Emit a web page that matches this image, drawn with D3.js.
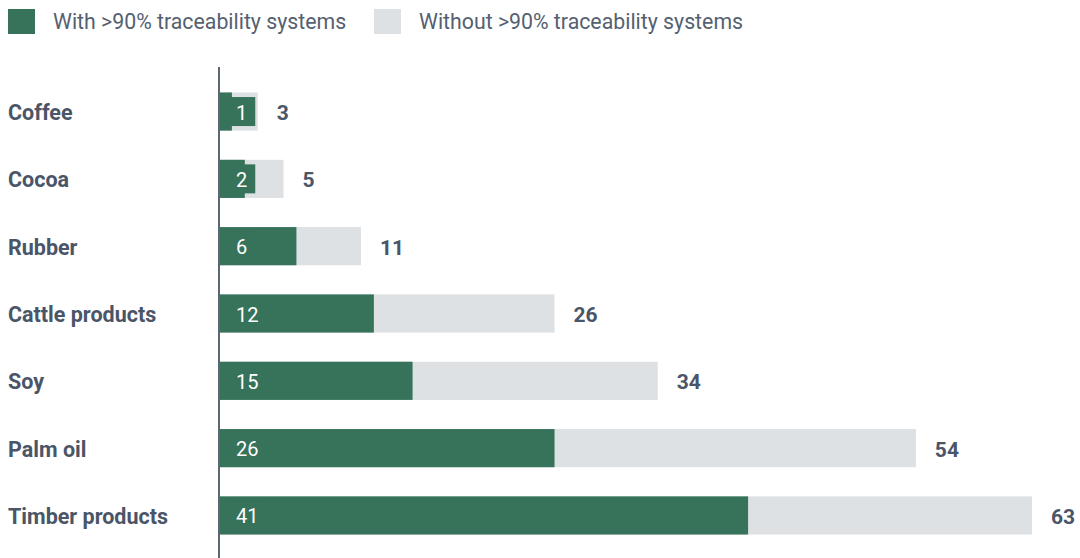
<!DOCTYPE html>
<html><head><meta charset="utf-8">
<script src="https://cdn.jsdelivr.net/npm/d3@7"></script>
<style>body{margin:0;background:#fff;}svg{display:block;font-family:Roboto,sans-serif;}</style>
</head><body><svg id="c" width="1080" height="558"></svg>
<script>
const categories = ["Coffee","Cocoa","Rubber","Cattle products","Soy","Palm oil","Timber products"];
const withValues = [1,2,6,12,15,26,41];
const totalValues = [3,5,11,26,34,54,63];
const seriesNames = ["With >90% traceability systems","Without >90% traceability systems"];
const colors = ["#36735a","#dde1e3"];
const textColor = "#4a5568";

const svg = d3.select("#c");
const x = d3.scaleLinear().domain([0,63]).range([219,1032]);
const y = d3.scaleBand().domain(categories).range([79,548]).paddingInner(0.433).paddingOuter(0.2);

// legend
const leg = svg.append("g");
let lx = [8, 374];
seriesNames.forEach((n,i)=>{
  leg.append("rect").attr("x",lx[i]).attr("y",9).attr("width",27).attr("height",25).attr("fill",colors[i]);
  leg.append("text").attr("x",lx[i]+45).attr("y",29).attr("font-size",21.3).attr("fill","#556070").text(n);
});

const rows = svg.append("g").selectAll("g").data(categories).join("g");
rows.append("rect").attr("x",x(0)).attr("y",d=>y(d)).attr("height",y.bandwidth())
  .attr("width",(d,i)=>x(totalValues[i])-x(0)).attr("fill",colors[1]);
rows.append("rect").attr("x",x(0)).attr("y",d=>y(d)).attr("height",y.bandwidth())
  .attr("width",(d,i)=>x(withValues[i])-x(0)).attr("fill",colors[0]);
// inner label with background
rows.each(function(d,i){
  const g = d3.select(this);
  const cy = y(d)+y.bandwidth()/2;
  const bg = g.append("rect").attr("fill",colors[0]);
  const t = g.append("text").attr("x",236).attr("y",cy).attr("dy","0.4em")
    .attr("font-size",20).attr("fill","#fff").text(withValues[i]);
  const bb = t.node().getBBox();
  bg.attr("x",bb.x-6).attr("width",bb.width+14).attr("y",cy-14.5).attr("height",29);
  g.append("text").attr("x",x(totalValues[i])+19).attr("y",cy).attr("dy","0.4em")
    .attr("font-size",21).attr("font-weight","bold").attr("fill",textColor).text(totalValues[i]);
  g.append("text").attr("x",8).attr("y",cy).attr("dy","0.4em")
    .attr("font-size",21.5).attr("font-weight","bold").attr("fill",textColor).text(d);
});

svg.append("line").attr("x1",x(0)).attr("x2",x(0)).attr("y1",67).attr("y2",558)
  .attr("stroke","#5d6673").attr("stroke-width",2);
</script></body></html>
